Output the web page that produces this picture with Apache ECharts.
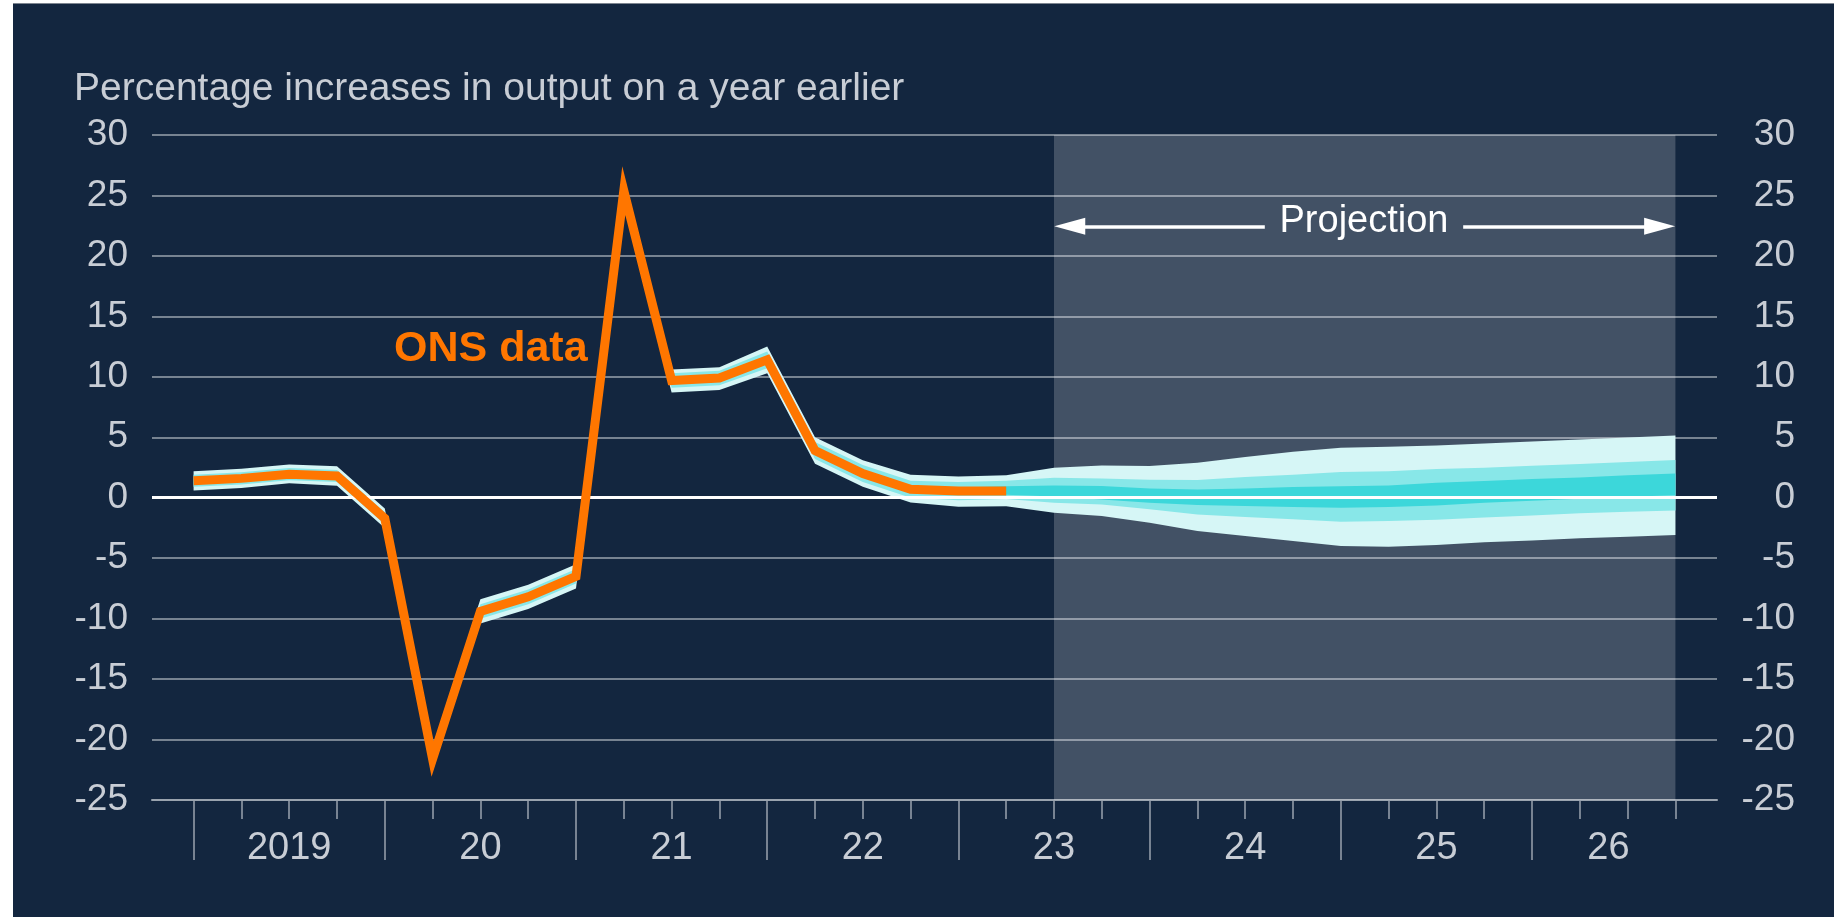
<!DOCTYPE html>
<html><head><meta charset="utf-8">
<script src="https://cdn.jsdelivr.net/npm/echarts@6/dist/echarts.min.js"></script>
<style>
html,body{margin:0;padding:0;background:#fff;width:1834px;height:917px;overflow:hidden}
#panel{position:absolute;left:13px;top:3px;right:0;bottom:0;background:#13263f;border-top:1px solid #7d8590}
#chart{position:absolute;left:0;top:0;width:1834px;height:917px}
</style></head><body><div id="panel"></div><div id="chart"></div>
<script>
// Quarters 2019 Q1 .. 2026 Q4 (x index = position in this list)
const quarters = ['2019 Q1','2019 Q2','2019 Q3','2019 Q4','2020 Q1','2020 Q2','2020 Q3','2020 Q4',
  '2021 Q1','2021 Q2','2021 Q3','2021 Q4','2022 Q1','2022 Q2','2022 Q3','2022 Q4',
  '2023 Q1','2023 Q2','2023 Q3','2023 Q4','2024 Q1','2024 Q2','2024 Q3','2024 Q4',
  '2025 Q1','2025 Q2','2025 Q3','2025 Q4','2026 Q1','2026 Q2','2026 Q3','2026 Q4'];

// ONS data (2019 Q1 .. 2023 Q2)
const onsData = [1.4, 1.6, 1.95, 1.8, -1.7, -21.6, -9.4, -8.2, -6.5, 25.4, 9.7, 9.9, 11.4, 3.9, 2.0, 0.7, 0.55, 0.55];

// Fan chart band boundaries
const lightUpper = [2.2, 2.4, 2.75, 2.6, -0.9, -20.6, -8.4, -7.2, -5.5, 26.6, 10.6, 10.8, 12.5, 5.0, 3.1, 1.9, 1.75, 1.85, 2.48, 2.67, 2.62, 2.89, 3.36, 3.8, 4.13, 4.21, 4.32, 4.49, 4.66, 4.82, 4.99, 5.15];
const midUpper   = [1.9, 2.1, 2.45, 2.3, -1.2, -21.0, -8.8, -7.6, -5.9, 26.0, 10.3, 10.5, 12.1, 4.6, 2.7, 1.4, 1.3, 1.4, 1.65, 1.6, 1.49, 1.46, 1.71, 1.9, 2.12, 2.2, 2.37, 2.48, 2.64, 2.78, 2.95, 3.11];
const darkUpper  = [1.65, 1.85, 2.2, 2.05, -1.45, -21.3, -9.1, -7.9, -6.2, 25.7, 10.0, 10.2, 11.7, 4.2, 2.3, 1.0, 0.85, 0.95, 1.02, 0.96, 0.77, 0.69, 0.77, 0.88, 0.94, 1.02, 1.24, 1.38, 1.54, 1.68, 1.85, 2.01];
const darkLower  = [1.15, 1.35, 1.7, 1.55, -1.95, -21.9, -9.7, -8.5, -6.8, 25.1, 9.4, 9.6, 11.1, 3.6, 1.7, 0.4, 0.25, 0.25, 0.1, -0.14, -0.41, -0.6, -0.69, -0.77, -0.83, -0.77, -0.65, -0.41, -0.25, -0.08, 0.08, 0.2];
const midLower   = [0.9, 1.1, 1.45, 1.3, -2.2, -22.2, -10.0, -8.8, -7.1, 24.8, 9.1, 9.3, 10.7, 3.2, 1.3, 0.0, -0.2, -0.1, -0.41, -0.55, -0.96, -1.38, -1.6, -1.79, -1.98, -1.93, -1.82, -1.63, -1.46, -1.29, -1.16, -1.05];
const lightLower = [0.6, 0.8, 1.2, 1.0, -2.5, -22.6, -10.4, -9.2, -7.5, 24.2, 8.7, 8.9, 10.3, 2.8, 0.9, -0.4, -0.75, -0.7, -1.24, -1.52, -2.07, -2.75, -3.17, -3.58, -4.0, -4.05, -3.9, -3.69, -3.53, -3.36, -3.22, -3.09];

// Axis labels
const yearLabels = ['2019', '20', '21', '22', '23', '24', '25', '26'];
const yearLabelPos = [2, 6, 10, 14, 18, 22, 26, 29.6];
const yearStartTicks = [0, 4, 8, 12, 16, 20, 24, 28];
const projectionStartIdx = 18;   // 2023 Q3
const projectionEndIdx = 31;     // 2026 Q4

const FONT = '"Liberation Sans", Arial, Helvetica, sans-serif';
const C_LIGHT = '#d6f6f6', C_MID = '#88e7e8', C_DARK = '#3cd7da';
const C_ORANGE = '#ff7600', C_TEXT = '#c8cdd5', C_GRID = '#9aa3ae';

const fanBands = [
  { upper: lightUpper, lower: lightLower, color: C_LIGHT },
  { upper: midUpper, lower: midLower, color: C_MID },
  { upper: darkUpper, lower: darkLower, color: C_DARK }
];

const pts = arr => arr.map((v, i) => [i, v]);

const chart = echarts.init(document.getElementById('chart'), null, { renderer: 'canvas' });
chart.setOption({
  animation: false,
  backgroundColor: 'transparent',
  grid: { left: 152, right: 117, top: 135, bottom: 117, containLabel: false },
  xAxis: [
    {
      type: 'value', min: -0.87, max: 31.87, position: 'bottom',
      axisLine: { show: true, onZero: false, lineStyle: { color: C_GRID, width: 2 } },
      axisTick: { show: true, customValues: yearStartTicks, length: 60, lineStyle: { color: C_GRID, width: 1.5 } },
      axisLabel: {
        show: true, customValues: yearLabelPos, margin: 30,
        formatter: v => { const k = yearLabelPos.indexOf(v); return k >= 0 ? yearLabels[k] : ''; },
        color: C_TEXT, fontSize: 38, fontFamily: FONT
      },
      splitLine: { show: false }
    },
    {
      type: 'value', min: -0.87, max: 31.87, position: 'bottom',
      axisLine: { show: false, onZero: false },
      axisTick: { show: true, customValues: quarters.map((q, i) => i), length: 19, lineStyle: { color: C_GRID, width: 1.5 } },
      axisLabel: { show: false },
      splitLine: { show: false }
    }
  ],
  yAxis: [
    {
      type: 'value', min: -25, max: 30, interval: 5, position: 'left',
      axisLine: { show: false }, axisTick: { show: false },
      axisLabel: { color: C_TEXT, fontSize: 37, fontFamily: FONT, margin: 24, padding: [11, 0, 0, 0] },
      splitLine: { show: true, lineStyle: { color: C_GRID, width: 1.5 } }
    },
    {
      type: 'value', min: -25, max: 30, interval: 5, position: 'right',
      axisLine: { show: false }, axisTick: { show: false },
      axisLabel: { color: C_TEXT, fontSize: 37, fontFamily: FONT, margin: 78, align: 'right', padding: [11, 0, 0, 0] },
      splitLine: { show: false }
    }
  ],
  series: [
    {
      name: 'projection-shade', type: 'line', data: [], z: 1, silent: true,
      markArea: {
        silent: true,
        itemStyle: { color: 'rgba(255,255,255,0.2)' },
        data: [[{ xAxis: projectionStartIdx }, { xAxis: projectionEndIdx }]]
      }
    },
    {
      name: 'fan', type: 'custom', z: 3, silent: true, clip: false,
      data: fanBands.map((b, i) => [i, 0]),
      encode: { x: 0, y: 1 },
      renderItem: (params, api) => {
        const b = fanBands[params.dataIndex];
        const top = b.upper.map((v, i) => api.coord([i, v]));
        const bottom = b.lower.map((v, i) => api.coord([i, v])).reverse();
        return {
          type: 'polygon', z2: params.dataIndex,
          shape: { points: top.concat(bottom) },
          style: { fill: b.color, stroke: null }
        };
      }
    },
    {
      name: 'zero', type: 'line', data: [], z: 4, silent: true,
      markLine: {
        silent: true, symbol: 'none', label: { show: false },
        lineStyle: { color: '#ffffff', width: 3, type: 'solid' },
        data: [{ yAxis: 0 }]
      }
    },
    {
      name: 'arrows', type: 'line', data: [], z: 6, silent: true,
      markLine: {
        silent: true, label: { show: false },
        lineStyle: { color: '#ffffff', width: 3.5, type: 'solid' },
        symbolSize: [17, 31],
        data: [
          [{ coord: [22.41, 22.45], symbol: 'none' }, { coord: [18.33, 22.45], symbol: 'triangle' }],
          [{ coord: [26.56, 22.45], symbol: 'none' }, { coord: [30.67, 22.45], symbol: 'triangle' }]
        ]
      }
    },
    {
      name: 'ONS data', type: 'line', data: pts(onsData), z: 5, symbol: 'none', silent: true,
      lineStyle: { color: C_ORANGE, width: 9, join: 'miter', cap: 'butt' }
    }
  ],
  graphic: [
    { type: 'text', x: 74, y: 89, z: 10, style: { text: 'Percentage increases in output on a year earlier', fill: C_TEXT, fontSize: 39, fontFamily: FONT, verticalAlign: 'middle', align: 'left' } },
    { type: 'text', x: 394, y: 349, z: 10, style: { text: 'ONS data', fill: C_ORANGE, fontSize: 43, fontWeight: 'bold', fontFamily: FONT, verticalAlign: 'middle', align: 'left' } },
    { type: 'text', x: 1364, y: 222, z: 10, style: { text: 'Projection', fill: '#ffffff', fontSize: 38, fontFamily: FONT, verticalAlign: 'middle', align: 'center' } }
  ]
});
</script>
</body></html>
